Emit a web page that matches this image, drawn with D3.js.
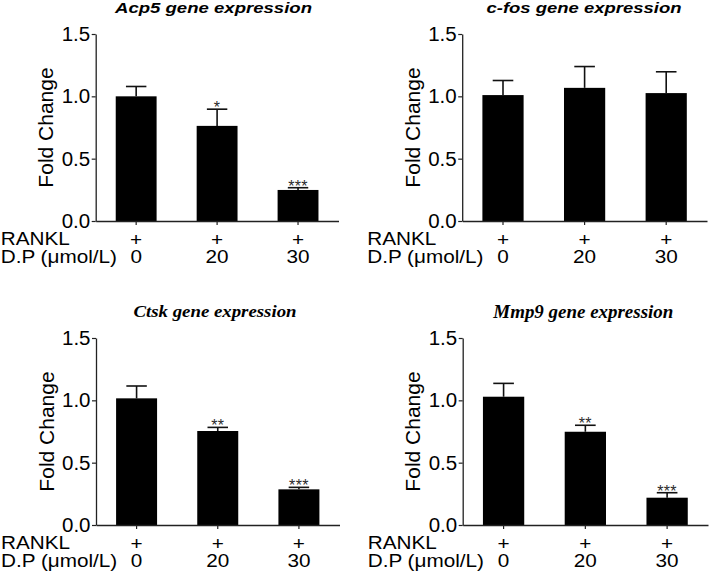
<!DOCTYPE html>
<html>
<head>
<meta charset="utf-8">
<script src="https://cdn.jsdelivr.net/npm/d3@7"></script>
<style>
  html, body { margin: 0; padding: 0; background: #fff; }
  svg { display: block; }
</style>
</head>
<body>
<svg id="chart" width="709" height="572"></svg>
<script>
// ---- data ----
const doses = ["0", "20", "30"];
const rankl = ["+", "+", "+"];
const yTicks = [0, 0.5, 1.0, 1.5];

const acp5Mean = [1.00, 0.763, 0.249];
const acp5Err  = [0.079, 0.134, 0.018];
const acp5Sig  = ["", "*", "***"];

const cfosMean = [1.01, 1.068, 1.026];
const cfosErr  = [0.117, 0.171, 0.171];
const cfosSig  = ["", "", ""];

const ctskMean = [1.016, 0.754, 0.286];
const ctskErr  = [0.099, 0.029, 0.016];
const ctskSig  = ["", "**", "***"];

const mmp9Mean = [1.029, 0.748, 0.219];
const mmp9Err  = [0.107, 0.052, 0.040];
const mmp9Sig  = ["", "**", "***"];

const titles = ["Acp5 gene expression", "c-fos gene expression", "Ctsk gene expression", "Mmp9 gene expression"];
const yLabel = "Fold Change";
const row1Label = "RANKL";
const row2Label = "D.P (\u03bcmol/L)";

// ---- layout ----
const panels = [
  { title: titles[0], mean: acp5Mean, err: acp5Err, sig: acp5Sig,
    x0: 95.7, x1: 338.5, yTop: 34, yBot: 221, serif: false, tx: 213.5, ty: 12.5, tl: 197, tfs: 14.5 },
  { title: titles[1], mean: cfosMean, err: cfosErr, sig: cfosSig,
    x0: 462.2, x1: 707, yTop: 34, yBot: 221, serif: false, tx: 584, ty: 12.5, tl: 195, tfs: 14.5 },
  { title: titles[2], mean: ctskMean, err: ctskErr, sig: ctskSig,
    x0: 96, x1: 339.5, yTop: 338, yBot: 525, serif: true, tx: 215, ty: 316.5, tl: 163, tfs: 17 },
  { title: titles[3], mean: mmp9Mean, err: mmp9Err, sig: mmp9Sig,
    x0: 462.7, x1: 708, yTop: 338, yBot: 525, serif: true, tx: 583.3, ty: 318, tl: 180, tfs: 18.5 }
];

const sans = "'Liberation Sans', Arial, Helvetica, sans-serif";
const serif = "'Liberation Serif', 'Times New Roman', serif";
const axisColor = "#222";
const rowFont = 18.5, rowStretch = 1.12;

const svg = d3.select("#chart");

panels.forEach(p => {
  const g = svg.append("g");
  const x = d3.scaleBand().domain(doses).range([p.x0, p.x1]).padding(0);
  const y = d3.scaleLinear().domain([0, 1.5]).range([p.yBot, p.yTop]);
  const bw = x.bandwidth() * 0.505;
  const cx = d => x(d) + x.bandwidth() / 2;

  const rows = doses.map((d, i) => ({ dose: d, mean: p.mean[i], err: p.err[i], sig: p.sig[i] }));

  // error bars (upper only)
  const eb = g.append("g").attr("stroke", "#111").attr("stroke-width", 1.6).attr("fill", "none");
  eb.selectAll("line.v").data(rows).join("line")
    .attr("x1", d => cx(d.dose)).attr("x2", d => cx(d.dose))
    .attr("y1", d => y(d.mean)).attr("y2", d => y(d.mean + d.err));
  eb.selectAll("line.c").data(rows).join("line")
    .attr("x1", d => cx(d.dose) - bw / 4).attr("x2", d => cx(d.dose) + bw / 4)
    .attr("y1", d => y(d.mean + d.err)).attr("y2", d => y(d.mean + d.err));

  // bars
  g.append("g").selectAll("rect").data(rows).join("rect")
    .attr("x", d => cx(d.dose) - bw / 2)
    .attr("width", bw)
    .attr("y", d => y(d.mean))
    .attr("height", d => y(0) - y(d.mean))
    .attr("fill", "#000");

  // significance stars
  g.append("g").selectAll("text").data(rows.filter(d => d.sig)).join("text")
    .attr("x", d => cx(d.dose))
    .attr("y", d => y(d.mean + d.err) + 4)
    .attr("text-anchor", "middle")
    .attr("font-family", sans)
    .attr("font-size", 16)
    .attr("fill", "#2a2a2a")
    .attr("letter-spacing", 0.3)
    .text(d => d.sig);

  // y axis
  const ya = g.append("g").attr("transform", `translate(${p.x0},0)`)
    .call(d3.axisLeft(y).tickValues(yTicks).tickFormat(d3.format(".1f")).tickSizeInner(4).tickSizeOuter(0).tickPadding(1.5));
  ya.select(".domain").attr("stroke", axisColor).attr("stroke-width", 1.3);
  ya.selectAll(".tick line").attr("stroke", axisColor).attr("stroke-width", 1.2);
  ya.selectAll(".tick text").attr("font-family", sans).attr("font-size", 20.5).attr("fill", "#000");

  // x axis
  const xa = g.append("g").attr("transform", `translate(0,${p.yBot})`)
    .call(d3.axisBottom(x).tickFormat("").tickSizeInner(4).tickSizeOuter(0));
  xa.select(".domain").attr("stroke", axisColor).attr("stroke-width", 1.3);
  xa.selectAll(".tick line").attr("stroke", axisColor).attr("stroke-width", 1.2);

  // y label
  g.append("text")
    .attr("transform", `translate(${p.x0 - 42.5},${(p.yTop + p.yBot) / 2}) rotate(-90)`)
    .attr("text-anchor", "middle")
    .attr("font-family", sans).attr("font-size", 21).attr("fill", "#000")
    .text(yLabel);

  // title
  g.append("text")
    .attr("x", p.tx).attr("y", p.ty)
    .attr("text-anchor", "middle")
    .attr("font-family", p.serif ? serif : sans)
    .attr("font-weight", "bold").attr("font-style", "italic")
    .attr("font-size", p.tfs)
    .attr("textLength", p.tl).attr("lengthAdjust", "spacingAndGlyphs")
    .attr("fill", "#000")
    .text(p.title);

  // category rows (slightly wide font, as in the figure)
  const rowText = (sel, tx, ty, anchor, txt) => sel.append("text")
    .attr("transform", `translate(${tx},${ty}) scale(${rowStretch},1)`)
    .attr("text-anchor", anchor)
    .attr("font-family", sans).attr("font-size", rowFont).attr("fill", "#000")
    .text(txt);

  rowText(g, p.x0 - 95, p.yBot + 24, "start", row1Label);
  rowText(g, p.x0 - 95, p.yBot + 42.3, "start", row2Label);
  doses.forEach((d, i) => {
    rowText(g, cx(d), p.yBot + 25, "middle", rankl[i]);
    rowText(g, cx(d), p.yBot + 42.3, "middle", d);
  });
});
</script>
</body>
</html>
